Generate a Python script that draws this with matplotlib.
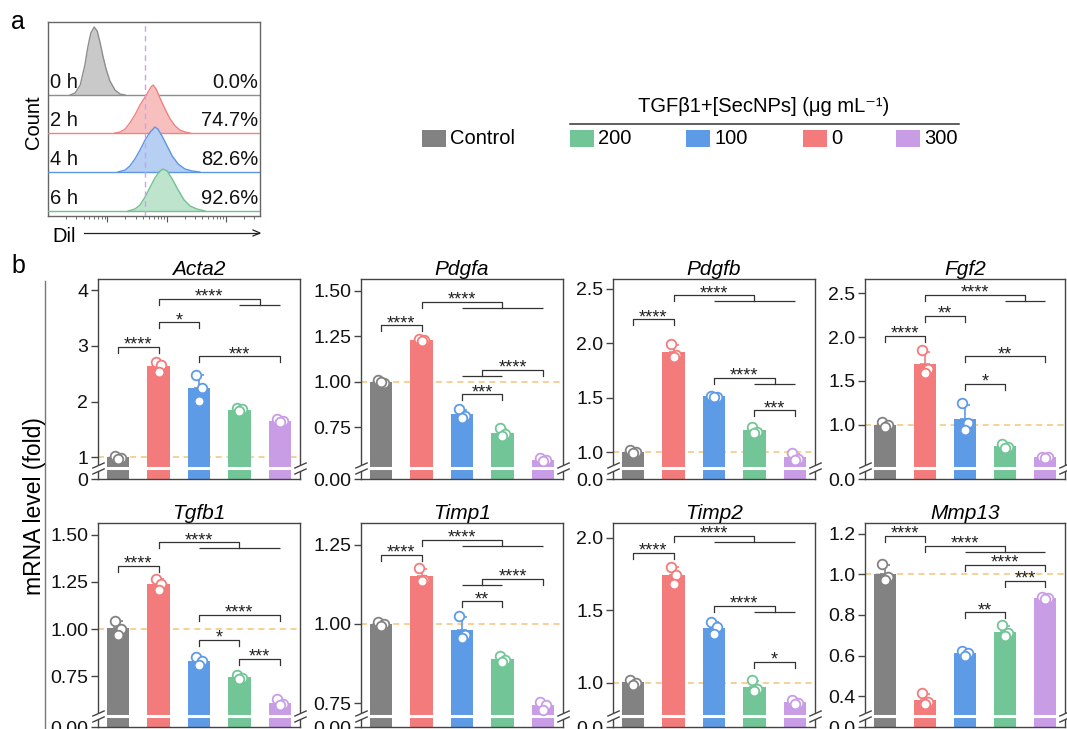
import numpy as np
import matplotlib
matplotlib.use("Agg")
import matplotlib.pyplot as plt
import matplotlib.transforms as mtransforms
from matplotlib.patches import Rectangle
from matplotlib.lines import Line2D
from matplotlib.path import Path

plt.rcParams['font.family'] = ['Liberation Sans', 'DejaVu Sans']

W, H = 1067, 729

# ---------------- panel a : DiI uptake histograms ----------------
hist_labels = ['0 h', '2 h', '4 h', '6 h']
hist_percent = ['0.0%', '74.7%', '82.6%', '92.6%']
dil_gate = 2.29      # gate position (log units)

dil_0h_x = [0.52, 0.64, 0.76, 0.87, 0.94, 1.01, 1.09, 1.16, 1.23, 1.30, 1.37, 1.46, 1.58, 1.70, 1.82]
dil_0h_counts = [0, 2, 10, 30, 48, 62, 68, 64, 52, 38, 26, 14, 5, 1, 0]
dil_2h_x = [1.58, 1.70, 1.82, 1.93, 2.05, 2.17, 2.29, 2.36, 2.43, 2.48, 2.55, 2.64, 2.76, 2.88, 3.00, 3.11, 3.23, 3.35]
dil_2h_counts = [0, 1, 4, 10, 18, 28, 36, 41, 46, 48, 44, 35, 24, 14, 7, 3, 1, 0]
dil_4h_x = [1.65, 1.82, 1.93, 2.05, 2.17, 2.29, 2.41, 2.48, 2.52, 2.59, 2.69, 2.81, 2.93, 3.07, 3.23, 3.40, 3.58]
dil_4h_counts = [0, 2, 6, 13, 22, 32, 40, 43, 45, 43, 36, 26, 16, 8, 3, 1, 0]
dil_6h_x = [1.89, 2.05, 2.17, 2.29, 2.41, 2.52, 2.64, 2.71, 2.81, 2.93, 3.07, 3.21, 3.35, 3.51, 3.70]
dil_6h_counts = [0, 2, 6, 14, 24, 33, 40, 42, 40, 32, 21, 11, 5, 2, 0]

# ---------------- panel b : qPCR ----------------
groups = ['Control', '0', '100', '200', '300']
genes = ['Acta2', 'Pdgfa', 'Pdgfb', 'Fgf2', 'Tgfb1', 'Timp1', 'Timp2', 'Mmp13']

acta2 = [[1.03, 0.99, 0.98], [2.72, 2.66, 2.54], [2.48, 2.24, 2.02], [1.88, 1.86, 1.83], [1.68, 1.65, 1.63]]
pdgfa = [[1.01, 0.99, 1.00], [1.235, 1.23, 1.225], [0.85, 0.81, 0.80], [0.745, 0.71, 0.70], [0.58, 0.57, 0.565]]
pdgfb = [[1.02, 1.00, 0.99], [1.99, 1.89, 1.87], [1.52, 1.51, 1.51], [1.23, 1.19, 1.18], [0.99, 0.94, 0.93]]
fgf2 = [[1.03, 1.00, 0.98], [1.85, 1.64, 1.59], [1.25, 1.02, 0.94], [0.78, 0.75, 0.74], [0.64, 0.63, 0.625]]
tgfb1 = [[1.045, 1.00, 0.97], [1.265, 1.24, 1.21], [0.855, 0.83, 0.81], [0.76, 0.74, 0.735], [0.63, 0.605, 0.60]]
timp1 = [[1.005, 1.00, 0.995], [1.177, 1.14, 1.135], [1.026, 0.965, 0.955], [0.90, 0.885, 0.88], [0.755, 0.745, 0.73]]
timp2 = [[1.02, 1.00, 0.985], [1.80, 1.74, 1.68], [1.415, 1.38, 1.333], [1.02, 0.955, 0.94], [0.88, 0.86, 0.855]]
mmp13 = [[1.05, 0.985, 0.97], [0.417, 0.37, 0.36], [0.62, 0.61, 0.60], [0.75, 0.71, 0.695], [0.89, 0.885, 0.88]]
replicates = [acta2, pdgfa, pdgfb, fgf2, tgfb1, timp1, timp2, mmp13]

yticks = [[0, 1, 2, 3, 4], [0, 0.75, 1, 1.25, 1.5], [0, 1, 1.5, 2, 2.5], [0, 1, 1.5, 2, 2.5],
          [0, 0.75, 1, 1.25, 1.5], [0, 0.75, 1, 1.25], [0, 1, 1.5, 2], [0, 0.4, 0.6, 0.8, 1.0, 1.2]]
ytick_labels = [['0', '1', '2', '3', '4'], ['0.00', '0.75', '1.00', '1.25', '1.50'],
                ['0.0', '1.0', '1.5', '2.0', '2.5'], ['0.0', '1.0', '1.5', '2.0', '2.5'],
                ['0.00', '0.75', '1.00', '1.25', '1.50'], ['0.00', '0.75', '1.00', '1.25'],
                ['0.0', '1.0', '1.5', '2.0'], ['0.0', '0.4', '0.6', '0.8', '1.0', '1.2']]
y_top = [4.2, 1.565, 2.59, 2.66, 1.562, 1.318, 2.1, 1.253]
y_break = [0.81, 0.525, 0.855, 0.51, 0.541, 0.71, 0.77, 0.302]

# significance: (left, right, height, stars); a tuple means a group of bars
brackets = [
    [(0, 1, 2.98, '****'), (1, 2, 3.42, '*'), (1, (3, 4), 3.85, '****'), (2, 4, 2.81, '***')],
    [(0, 1, 1.31, '****'), (1, (2, 4), 1.44, '****'), ((2, 3), 4, 1.066, '****'), (2, 3, 0.93, '***')],
    [(0, 1, 2.22, '****'), (1, (2, 4), 2.44, '****'), (2, (3, 4), 1.68, '****'), (3, 4, 1.385, '***')],
    [(0, 1, 2.01, '****'), (1, 2, 2.24, '**'), (1, (3, 4), 2.48, '****'), (2, 4, 1.78, '**'), (2, 3, 1.47, '*')],
    [(0, 1, 1.335, '****'), (1, (2, 4), 1.46, '****'), (2, 4, 1.076, '****'), (2, 3, 0.944, '*'), (3, 4, 0.843, '***')],
    [(0, 1, 1.218, '****'), (1, (2, 4), 1.265, '****'), ((2, 3), 4, 1.142, '****'), (2, 3, 1.071, '**')],
    [(0, 1, 1.892, '****'), (1, (2, 4), 2.01, '****'), (2, (3, 4), 1.53, '****'), (3, 4, 1.143, '*')],
    [(0, 1, 1.19, '****'), (1, (2, 4), 1.14, '****'), (2, 4, 1.046, '****'), (3, 4, 0.967, '***'), (2, 3, 0.813, '**')],
]

legend_labels = ['Control', '200', '100', '0', '300']

bar_colors = {'Control': '#828282', '0': '#F47B7B', '100': '#5E9BE6', '200': '#72C596', '300': '#C99DE6'}
hist_line = ['#8e8e8e', '#f08282', '#5f96e3', '#72c191']
hist_fill = ['#c9c9c9', '#f8bfbf', '#b6cff3', '#bfe4cd']
INK = '#333333'

fig = plt.figure(figsize=(W / 100, H / 100), dpi=100)


def px_axes(left, top, width, height):
    return fig.add_axes([left / W, 1 - (top + height) / H, width / W, height / H])


def ftext(x, y, s, **kw):
    return fig.text(x / W, 1 - y / H, s, **kw)


# ---------------- panel a ----------------
axh = px_axes(48, 22, 212, 194)
hist_x = [dil_0h_x, dil_2h_x, dil_4h_x, dil_6h_x]
hist_c = [dil_0h_counts, dil_2h_counts, dil_4h_counts, dil_6h_counts]
row_base = [121, 83, 44, 5]
for i in range(4):
    x = np.array(hist_x[i])
    c = np.array(hist_c[i])
    b = row_base[i]
    z = 2 + i
    axh.fill_between(x, b, b + c, color=hist_fill[i], lw=0, zorder=z)
    axh.plot(x, b + c, color=hist_line[i], lw=1, zorder=z)
    axh.axhline(b, color=hist_line[i], lw=1, zorder=z)
    axh.text(0.05, b + 3, hist_labels[i], fontsize=14.5, ha='left', va='bottom', zorder=10, color='#111')
    axh.text(4.95, b + 3, hist_percent[i], fontsize=14.5, ha='right', va='bottom', zorder=10, color='#111')
axh.axvline(dil_gate, color='#c7a3ee', lw=1, ls=(0, (4, 3)), zorder=9)
axh.set_xlim(0, 5)
axh.set_ylim(0, 194)
axh.set_yticks([])
majors = [1.4, 2.8, 4.2]
minors = [m + 1.4 * np.log10(k) for m in [0.0, 1.4, 2.8, 4.2] for k in range(2, 10)]
minors = [m for m in minors if m < 5]
axh.set_xticks(majors)
axh.set_xticks(minors, minor=True)
axh.set_xticklabels([])
axh.tick_params(axis='x', which='major', length=4, width=0.8, color='#555', direction='out')
axh.tick_params(axis='x', which='minor', length=2, width=0.6, color='#555', direction='out')
for sp in axh.spines.values():
    sp.set_color('#666')
    sp.set_linewidth(1)
ftext(33, 122, 'Count', rotation=90, ha='center', va='center', fontsize=14.5)
ftext(52, 237, 'Dil', ha='left', va='center', fontsize=14.5)
fig.add_artist(Line2D([84 / W, 259 / W], [1 - 233 / H, 1 - 233 / H], transform=fig.transFigure,
                      color='#222', lw=0.9))
fig.add_artist(Line2D([253 / W, 260 / W, 253 / W], [1 - 230 / H, 1 - 233 / H, 1 - 236 / H],
                      transform=fig.transFigure, color='#222', lw=0.9))
ftext(11, 22, 'a', fontsize=18, ha='left', va='center')
ftext(11, 266, 'b', fontsize=18, ha='left', va='center')

# ---------------- legend ----------------
def px_rect(x0, y0, x1, y1, color):
    fig.add_artist(Rectangle((x0 / W, 1 - y1 / H), (x1 - x0) / W, (y1 - y0) / H,
                             transform=fig.transFigure, color=color, lw=0))


swatch_x = [422, 570, 686, 803, 896]
for lab, sx in zip(legend_labels, swatch_x):
    px_rect(sx, 130, sx + 24, 147, bar_colors[lab])
    ftext(sx + 28, 139, lab, fontsize=14.5, ha='left', va='center')
ftext(764, 106, 'TGFβ1+[SecNPs] (μg mL⁻¹)', fontsize=14.5, ha='center', va='center')
fig.add_artist(Line2D([570 / W, 959 / W], [1 - 124 / H, 1 - 124 / H], transform=fig.transFigure,
                      color=INK, lw=1.1))

# ---------------- panel b ----------------
fig.add_artist(Line2D([45 / W, 45 / W], [1 - 281 / H, 0], transform=fig.transFigure, color='#777', lw=1))
ftext(35, 506, 'mRNA level (fold)', rotation=90, ha='center', va='center', fontsize=16.5)

col_left = [98, 361, 613, 865]
col_width = [202, 202, 202, 200]
row_top = [279, 523]
row_height = [200, 204]
LOWER_PX = 11
jitter = np.array([-0.07, 0.07, 0.0])
xpos = np.arange(len(groups))

slash = Path([(-1, -0.45), (1, 0.45)], [Path.MOVETO, Path.LINETO])


def broken_funcs(brk, s):
    def fwd(v):
        v = np.asarray(v, dtype=float)
        return np.where(v < brk, v * s / brk, s + (v - brk))

    def inv(u):
        u = np.asarray(u, dtype=float)
        return np.where(u < s, u * brk / s, brk + (u - s))
    return fwd, inv


def shift_px(ax, y, dpx):
    d = ax.transData.transform((0, y))
    return ax.transData.inverted().transform((d[0], d[1] - dpx))[1]


def draw_bracket(ax, a, b, y, label):
    y_leg = shift_px(ax, y, 6)

    def end(e):
        if isinstance(e, tuple):
            ax.plot([e[0], e[1]], [y_leg, y_leg], color=INK, lw=0.9, zorder=6, solid_capstyle='butt')
            return (e[0] + e[1]) / 2
        return e
    xa, xb = end(a), end(b)
    ax.plot([xa, xa, xb, xb], [y_leg, y, y, y_leg], color=INK, lw=0.9, zorder=6)
    ax.annotate(label, ((xa + xb) / 2, y), xytext=(0, -2), textcoords='offset points',
                ha='center', va='baseline', fontsize=13, color='#222', zorder=7)


for k, gene in enumerate(genes):
    r, c = divmod(k, 4)
    hpx = row_height[r]
    ax = px_axes(col_left[c], row_top[r], col_width[c], hpx)
    top, brk = y_top[k], y_break[k]
    s = LOWER_PX * (top - brk) / (hpx - LOWER_PX)
    ax.set_yscale('function', functions=broken_funcs(brk, s))
    ax.set_ylim(0, top)
    ax.set_xlim(-0.5, 4.5)

    data = np.array(replicates[k])
    means = data.mean(axis=1)
    sds = data.std(axis=1, ddof=1)
    cols = [bar_colors[g] for g in groups]

    ax.axhline(1.0, color='#F3C57C', lw=1.1, ls=(0, (4, 3)), zorder=1)
    ax.bar(xpos, means, width=0.55, color=cols, zorder=2)
    ax.axhline(brk, color='white', lw=2.2, zorder=2.3)
    for i in range(len(groups)):
        ax.errorbar(xpos[i], means[i], yerr=[[0], [sds[i]]], color=cols[i], lw=1.2,
                    capsize=3.5, capthick=1.2, zorder=3)
        ax.scatter(xpos[i] + jitter, data[i], s=48, facecolor='white', edgecolor=cols[i],
                   linewidth=1.3, zorder=4)

    ax.set_yticks(yticks[k])
    ax.set_yticklabels(ytick_labels[k])
    ax.set_xticks([])
    ax.tick_params(axis='y', length=5, width=1, color='#444', labelsize=14, pad=2, labelcolor='#111')
    for sp in ax.spines.values():
        sp.set_color('#444')
        sp.set_linewidth(1)
    ax.set_title(gene, style='italic', fontsize=15, pad=3)

    for b in brackets[k]:
        draw_bracket(ax, *b)

    base = mtransforms.blended_transform_factory(ax.transAxes, ax.transData)
    for side in (0, 1):
        ax.plot([side], [brk], transform=base, marker='|', ms=5, mew=3, color='white',
                clip_on=False, zorder=8)
        for dy in (2.0, -2.0):
            tr = mtransforms.offset_copy(base, fig=fig, x=0, y=dy, units='points')
            ax.plot([side], [brk], transform=tr, marker=slash, ms=9, mew=1, color='#444',
                    clip_on=False, zorder=9)

fig.savefig('out.png', dpi=100)
